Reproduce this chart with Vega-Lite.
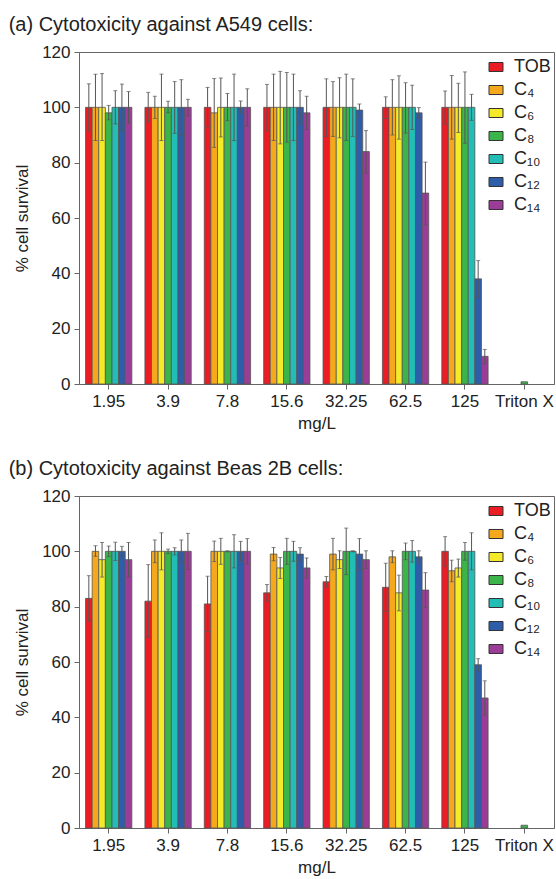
{
  "$schema": "https://vega.github.io/schema/vega-lite/v6.json",
  "padding": {"left": 8, "top": 14, "right": 0, "bottom": 0},
  "spacing": 26,
  "config": {
    "font": "Liberation Sans",
    "view": {"stroke": "#666", "strokeWidth": 1},
    "axis": {"domainColor": "#666", "tickColor": "#666", "labelColor": "#222", "titleColor": "#222", "labelFontSize": 17, "titleFontSize": 17, "titleFontWeight": "normal", "grid": false, "tickSize": 5, "labelPadding": 4},
    "title": {"fontSize": 20, "fontWeight": "normal", "anchor": "start", "color": "#222", "frame": "bounds"}
  },
  "resolve": {"scale": {"color": "independent"}, "legend": {"color": "independent"}},
  "datasets": {
    "a": [
      {"c": "1.95", "s": "TOB", "v": 100, "lo": 91.5, "hi": 108.5},
      {"c": "1.95", "s": "C₄", "v": 100, "lo": 88, "hi": 112},
      {"c": "1.95", "s": "C₆", "v": 100, "lo": 88, "hi": 112.2},
      {"c": "1.95", "s": "C₈", "v": 98, "lo": 95.5, "hi": 100.7},
      {"c": "1.95", "s": "C₁₀", "v": 100, "lo": 94, "hi": 106},
      {"c": "1.95", "s": "C₁₂", "v": 100, "lo": 91.6, "hi": 108.4},
      {"c": "1.95", "s": "C₁₄", "v": 100, "lo": 94.3, "hi": 105.7},
      {"c": "3.9", "s": "TOB", "v": 100, "lo": 94.7, "hi": 105.4},
      {"c": "3.9", "s": "C₄", "v": 100, "lo": 96, "hi": 104},
      {"c": "3.9", "s": "C₆", "v": 100, "lo": 88, "hi": 112},
      {"c": "3.9", "s": "C₈", "v": 100, "lo": 98, "hi": 102.2},
      {"c": "3.9", "s": "C₁₀", "v": 100, "lo": 90.6, "hi": 109.3},
      {"c": "3.9", "s": "C₁₂", "v": 100, "lo": 90, "hi": 110},
      {"c": "3.9", "s": "C₁₄", "v": 100, "lo": 97, "hi": 102.9},
      {"c": "7.8", "s": "TOB", "v": 100, "lo": 92.9, "hi": 107.2},
      {"c": "7.8", "s": "C₄", "v": 98, "lo": 85.5, "hi": 110.4},
      {"c": "7.8", "s": "C₆", "v": 100, "lo": 89.3, "hi": 110.6},
      {"c": "7.8", "s": "C₈", "v": 100, "lo": 95.2, "hi": 105},
      {"c": "7.8", "s": "C₁₀", "v": 100, "lo": 88, "hi": 112},
      {"c": "7.8", "s": "C₁₂", "v": 100, "lo": 98, "hi": 102.3},
      {"c": "7.8", "s": "C₁₄", "v": 100, "lo": 93.2, "hi": 106.7},
      {"c": "15.6", "s": "TOB", "v": 100, "lo": 91.6, "hi": 108.3},
      {"c": "15.6", "s": "C₄", "v": 100, "lo": 88, "hi": 112},
      {"c": "15.6", "s": "C₆", "v": 100, "lo": 86.8, "hi": 113},
      {"c": "15.6", "s": "C₈", "v": 100, "lo": 87.4, "hi": 112.6},
      {"c": "15.6", "s": "C₁₀", "v": 100, "lo": 88, "hi": 112},
      {"c": "15.6", "s": "C₁₂", "v": 100, "lo": 94, "hi": 106},
      {"c": "15.6", "s": "C₁₄", "v": 98, "lo": 92, "hi": 104},
      {"c": "32.25", "s": "TOB", "v": 100, "lo": 89.5, "hi": 110.3},
      {"c": "32.25", "s": "C₄", "v": 100, "lo": 89.5, "hi": 109.3},
      {"c": "32.25", "s": "C₆", "v": 100, "lo": 89, "hi": 110.7},
      {"c": "32.25", "s": "C₈", "v": 100, "lo": 88, "hi": 112},
      {"c": "32.25", "s": "C₁₀", "v": 100, "lo": 89.5, "hi": 110.3},
      {"c": "32.25", "s": "C₁₂", "v": 99, "lo": 96.9, "hi": 101.2},
      {"c": "32.25", "s": "C₁₄", "v": 84, "lo": 76.2, "hi": 91.6},
      {"c": "62.5", "s": "TOB", "v": 100, "lo": 96, "hi": 103.8},
      {"c": "62.5", "s": "C₄", "v": 100, "lo": 90, "hi": 110},
      {"c": "62.5", "s": "C₆", "v": 100, "lo": 88.5, "hi": 111.4},
      {"c": "62.5", "s": "C₈", "v": 100, "lo": 90.7, "hi": 108.9},
      {"c": "62.5", "s": "C₁₀", "v": 100, "lo": 92, "hi": 108},
      {"c": "62.5", "s": "C₁₂", "v": 98, "lo": 96.1, "hi": 99.9},
      {"c": "62.5", "s": "C₁₄", "v": 69, "lo": 57.5, "hi": 80.2},
      {"c": "125", "s": "TOB", "v": 100, "lo": 94, "hi": 105.9},
      {"c": "125", "s": "C₄", "v": 100, "lo": 88.5, "hi": 111.5},
      {"c": "125", "s": "C₆", "v": 100, "lo": 90.9, "hi": 108.7},
      {"c": "125", "s": "C₈", "v": 100, "lo": 87, "hi": 112.8},
      {"c": "125", "s": "C₁₀", "v": 100, "lo": 95.3, "hi": 104.7},
      {"c": "125", "s": "C₁₂", "v": 38, "lo": 31.3, "hi": 44.6},
      {"c": "125", "s": "C₁₄", "v": 10, "lo": 7.3, "hi": 12.5},
      {"c": "Triton X", "s": "C₈", "v": 0.8}
    ],
    "b": [
      {"c": "1.95", "s": "TOB", "v": 83, "lo": 74.8, "hi": 91.2},
      {"c": "1.95", "s": "C₄", "v": 100, "lo": 98.2, "hi": 102},
      {"c": "1.95", "s": "C₆", "v": 97, "lo": 90.7, "hi": 103.2},
      {"c": "1.95", "s": "C₈", "v": 100, "lo": 98.1, "hi": 101.9},
      {"c": "1.95", "s": "C₁₀", "v": 100, "lo": 96.7, "hi": 103.3},
      {"c": "1.95", "s": "C₁₂", "v": 100, "lo": 98.2, "hi": 101.8},
      {"c": "1.95", "s": "C₁₄", "v": 97, "lo": 90.8, "hi": 103.2},
      {"c": "3.9", "s": "TOB", "v": 82, "lo": 69, "hi": 95.2},
      {"c": "3.9", "s": "C₄", "v": 100, "lo": 95.9, "hi": 104.1},
      {"c": "3.9", "s": "C₆", "v": 100, "lo": 93.3, "hi": 106.7},
      {"c": "3.9", "s": "C₈", "v": 100, "lo": 99.2, "hi": 100.8},
      {"c": "3.9", "s": "C₁₀", "v": 100, "lo": 98.7, "hi": 101.3},
      {"c": "3.9", "s": "C₁₂", "v": 100, "lo": 95.9, "hi": 104.1},
      {"c": "3.9", "s": "C₁₄", "v": 100, "lo": 93.5, "hi": 106.5},
      {"c": "7.8", "s": "TOB", "v": 81, "lo": 71, "hi": 91},
      {"c": "7.8", "s": "C₄", "v": 100, "lo": 96.3, "hi": 103.7},
      {"c": "7.8", "s": "C₆", "v": 100, "lo": 95.3, "hi": 104.7},
      {"c": "7.8", "s": "C₈", "v": 100, "lo": 99.8, "hi": 100.2},
      {"c": "7.8", "s": "C₁₀", "v": 100, "lo": 94, "hi": 106},
      {"c": "7.8", "s": "C₁₂", "v": 100, "lo": 96.4, "hi": 103.6},
      {"c": "7.8", "s": "C₁₄", "v": 100, "lo": 95.4, "hi": 104.6},
      {"c": "15.6", "s": "TOB", "v": 85, "lo": 82, "hi": 88},
      {"c": "15.6", "s": "C₄", "v": 99, "lo": 96.6, "hi": 101.4},
      {"c": "15.6", "s": "C₆", "v": 94, "lo": 90.2, "hi": 97.8},
      {"c": "15.6", "s": "C₈", "v": 100, "lo": 95.3, "hi": 104.7},
      {"c": "15.6", "s": "C₁₀", "v": 100, "lo": 96.4, "hi": 103.6},
      {"c": "15.6", "s": "C₁₂", "v": 99, "lo": 96.5, "hi": 101.3},
      {"c": "15.6", "s": "C₁₄", "v": 94, "lo": 90.3, "hi": 97.6},
      {"c": "32.25", "s": "TOB", "v": 89, "lo": 87.1, "hi": 90.9},
      {"c": "32.25", "s": "C₄", "v": 99, "lo": 93.3, "hi": 104.7},
      {"c": "32.25", "s": "C₆", "v": 97, "lo": 93.8, "hi": 100.2},
      {"c": "32.25", "s": "C₈", "v": 100, "lo": 91.6, "hi": 108.4},
      {"c": "32.25", "s": "C₁₀", "v": 100, "lo": 99.8, "hi": 100.2},
      {"c": "32.25", "s": "C₁₂", "v": 99, "lo": 93.3, "hi": 104.6},
      {"c": "32.25", "s": "C₁₄", "v": 97, "lo": 93.8, "hi": 100.2},
      {"c": "62.5", "s": "TOB", "v": 87, "lo": 78.3, "hi": 95.7},
      {"c": "62.5", "s": "C₄", "v": 98, "lo": 95.9, "hi": 100.2},
      {"c": "62.5", "s": "C₆", "v": 85, "lo": 78.5, "hi": 91.4},
      {"c": "62.5", "s": "C₈", "v": 100, "lo": 97, "hi": 103},
      {"c": "62.5", "s": "C₁₀", "v": 100, "lo": 96.1, "hi": 103.9},
      {"c": "62.5", "s": "C₁₂", "v": 98, "lo": 95.9, "hi": 100.2},
      {"c": "62.5", "s": "C₁₄", "v": 86, "lo": 79.7, "hi": 92.3},
      {"c": "125", "s": "TOB", "v": 100, "lo": 94.7, "hi": 105.3},
      {"c": "125", "s": "C₄", "v": 93, "lo": 89, "hi": 96.8},
      {"c": "125", "s": "C₆", "v": 94, "lo": 90.7, "hi": 97.2},
      {"c": "125", "s": "C₈", "v": 100, "lo": 96.8, "hi": 103.2},
      {"c": "125", "s": "C₁₀", "v": 100, "lo": 93.3, "hi": 106.7},
      {"c": "125", "s": "C₁₂", "v": 59, "lo": 56.8, "hi": 61.2},
      {"c": "125", "s": "C₁₄", "v": 47, "lo": 40.8, "hi": 53.2},
      {"c": "Triton X", "s": "C₈", "v": 1}
    ]
  },
  "vconcat": [
    {
      "width": 475, "height": 332,
      "title": {"text": "(a) Cytotoxicity against A549 cells:", "dx": -5, "offset": 8},
      "data": {"name": "a"},
      "encoding": {
        "x": {"field": "c", "type": "nominal", "sort": ["1.95", "3.9", "7.8", "15.6", "32.25", "62.5", "125", "Triton X"], "scale": {"paddingInner": 0.22, "paddingOuter": 0.11}, "axis": {"title": "mg/L", "labelAngle": 0, "titlePadding": 6}},
        "xOffset": {"field": "s", "type": "nominal", "sort": ["TOB", "C₄", "C₆", "C₈", "C₁₀", "C₁₂", "C₁₄"], "scale": {"paddingInner": 0, "paddingOuter": 0}}
      },
      "layer": [
        {
          "mark": {"type": "bar", "stroke": "#555", "strokeWidth": 0.8},
          "encoding": {
            "y": {"field": "v", "type": "quantitative", "title": "% cell survival", "scale": {"domain": [0, 120], "nice": false}, "axis": {"values": [0, 20, 40, 60, 80, 100, 120], "titlePadding": 10}},
            "color": {"field": "s", "type": "nominal", "sort": ["TOB", "C₄", "C₆", "C₈", "C₁₀", "C₁₂", "C₁₄"],
              "scale": {"domain": ["TOB", "C₄", "C₆", "C₈", "C₁₀", "C₁₂", "C₁₄"], "range": ["#ec1c24", "#f6a81c", "#f4ea28", "#3bb54a", "#22bdb5", "#2e5ea9", "#9b3d97"]},
              "legend": {"title": null, "orient": "none", "legendX": 408, "legendY": 6, "padding": 0, "symbolType": "M-1.4,-0.9H1.4V0.9H-1.4Z", "symbolSize": 100, "symbolStrokeColor": "#333", "symbolStrokeWidth": 1, "symbolOpacity": 1, "labelFontSize": 18, "labelColor": "#222", "labelOffset": 9, "rowPadding": 5}}
          }
        },
        {
          "mark": {"type": "rule", "color": "#555", "strokeWidth": 1},
          "encoding": {"y": {"field": "lo", "type": "quantitative", "title": "% cell survival"}, "y2": {"field": "hi"}}
        },
        {
          "mark": {"type": "tick", "color": "#555", "size": 4, "thickness": 1},
          "encoding": {"y": {"field": "lo", "type": "quantitative", "title": "% cell survival"}}
        },
        {
          "mark": {"type": "tick", "color": "#555", "size": 4, "thickness": 1},
          "encoding": {"y": {"field": "hi", "type": "quantitative", "title": "% cell survival"}}
        }
      ]
    },
    {
      "width": 475, "height": 332,
      "title": {"text": "(b) Cytotoxicity against Beas 2B cells:", "dx": -5, "offset": 8},
      "data": {"name": "b"},
      "encoding": {
        "x": {"field": "c", "type": "nominal", "sort": ["1.95", "3.9", "7.8", "15.6", "32.25", "62.5", "125", "Triton X"], "scale": {"paddingInner": 0.22, "paddingOuter": 0.11}, "axis": {"title": "mg/L", "labelAngle": 0, "titlePadding": 6}},
        "xOffset": {"field": "s", "type": "nominal", "sort": ["TOB", "C₄", "C₆", "C₈", "C₁₀", "C₁₂", "C₁₄"], "scale": {"paddingInner": 0, "paddingOuter": 0}}
      },
      "layer": [
        {
          "mark": {"type": "bar", "stroke": "#555", "strokeWidth": 0.8},
          "encoding": {
            "y": {"field": "v", "type": "quantitative", "title": "% cell survival", "scale": {"domain": [0, 120], "nice": false}, "axis": {"values": [0, 20, 40, 60, 80, 100, 120], "titlePadding": 10}},
            "color": {"field": "s", "type": "nominal", "sort": ["TOB", "C₄", "C₆", "C₈", "C₁₀", "C₁₂", "C₁₄"],
              "scale": {"domain": ["TOB", "C₄", "C₆", "C₈", "C₁₀", "C₁₂", "C₁₄"], "range": ["#ec1c24", "#f6a81c", "#f4ea28", "#3bb54a", "#22bdb5", "#2e5ea9", "#9b3d97"]},
              "legend": {"title": null, "orient": "none", "legendX": 408, "legendY": 6, "padding": 0, "symbolType": "M-1.4,-0.9H1.4V0.9H-1.4Z", "symbolSize": 100, "symbolStrokeColor": "#333", "symbolStrokeWidth": 1, "symbolOpacity": 1, "labelFontSize": 18, "labelColor": "#222", "labelOffset": 9, "rowPadding": 5}}
          }
        },
        {
          "mark": {"type": "rule", "color": "#555", "strokeWidth": 1},
          "encoding": {"y": {"field": "lo", "type": "quantitative", "title": "% cell survival"}, "y2": {"field": "hi"}}
        },
        {
          "mark": {"type": "tick", "color": "#555", "size": 4, "thickness": 1},
          "encoding": {"y": {"field": "lo", "type": "quantitative", "title": "% cell survival"}}
        },
        {
          "mark": {"type": "tick", "color": "#555", "size": 4, "thickness": 1},
          "encoding": {"y": {"field": "hi", "type": "quantitative", "title": "% cell survival"}}
        }
      ]
    }
  ]
}
